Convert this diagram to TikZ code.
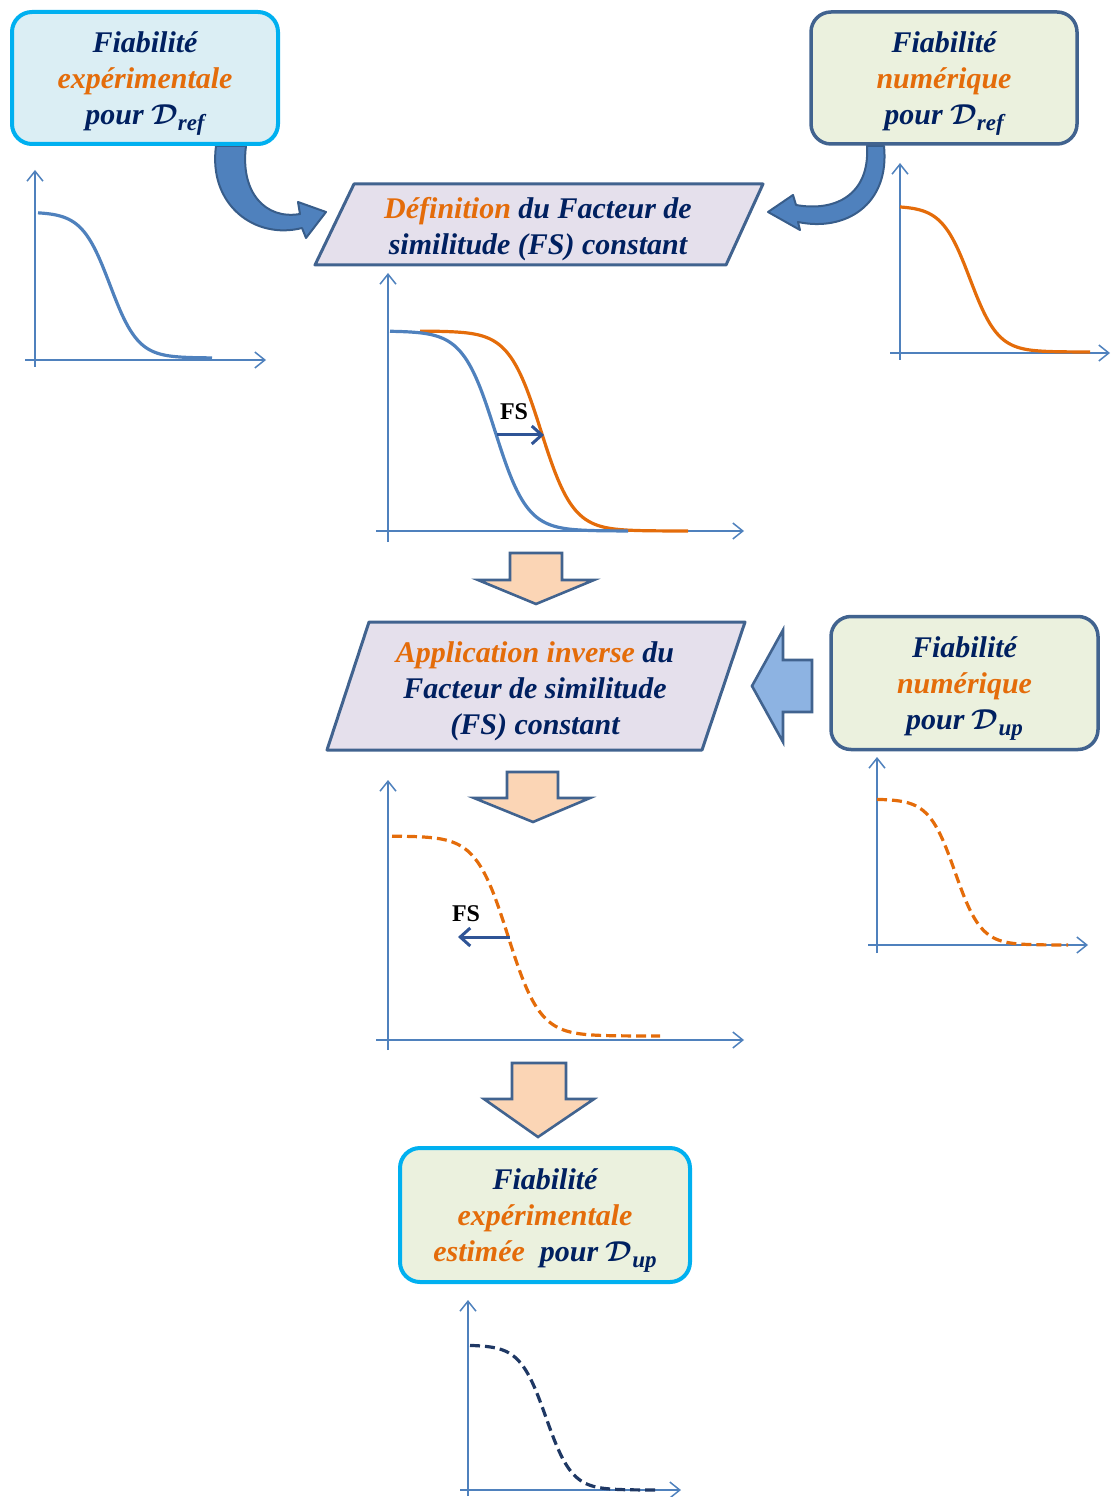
\documentclass[tikz,border=0pt]{standalone}
\usepackage{fontspec}
\setmainfont{Liberation Serif}
\usetikzlibrary{arrows.meta,shapes.geometric}
\definecolor{navy}{HTML}{002060}
\definecolor{orng}{HTML}{E46C0A}
\definecolor{bord}{HTML}{41638F}
\definecolor{cyanb}{HTML}{00B0F0}
\definecolor{fillblue}{HTML}{DBEEF4}
\definecolor{fillgreen}{HTML}{EBF1DE}
\definecolor{fillpurple}{HTML}{E5E0EC}
\definecolor{axiscol}{HTML}{4F81BD}
\definecolor{curveblue}{HTML}{4F81BD}
\definecolor{peach}{HTML}{FBD5B5}
\definecolor{arrowblue}{HTML}{4F81BD}
\definecolor{arrowborder}{HTML}{385D8A}
\definecolor{lightarrow}{HTML}{8DB3E2}
\definecolor{fsblue}{HTML}{2F5496}
\definecolor{darknavy}{HTML}{1F3864}
\newcommand{\Dsub}[1]{{\boldmath\fontsize{15.5}{15.5}\selectfont$\mathcal{D}$}\raisebox{-0.45ex}{\fontsize{11.5}{11.5}\selectfont #1}}
\begin{document}
\begin{tikzpicture}[x=0.5pt,y=-0.5pt,
  txt/.style={font=\fontsize{15}{18}\selectfont\bfseries\itshape, text=navy, align=center, inner sep=0pt},
  rbox/.style={txt, rounded corners=10pt, line width=1.75pt, text depth=0pt},
  para/.style={draw=bord, fill=fillpurple, line width=1.5pt, line join=round},
  ax/.style={draw=axiscol, line width=0.75pt, -{Straight Barb[length=5pt,width=8pt]}},
  curveline/.style={line width=1.6pt},
  dashcurve/.style={line width=1.6pt, dash pattern=on 5pt off 2.5pt},
  fsarrow/.style={draw=fsblue, line width=1.5pt, -{Straight Barb[length=5pt,width=9pt]}},
  fslabel/.style={font=\fontsize{12}{12}\selectfont\bfseries, text=black, inner sep=0pt},
  bentarrow/.style={fill=arrowblue, draw=arrowborder, line width=1pt, line join=round},
  blockarrow/.style={fill=peach, draw=bord, line width=1.3pt, line join=miter},
  sidearrow/.style={fill=lightarrow, draw=bord, line width=1.3pt, line join=miter}
]
\useasboundingbox (0,0) rectangle (1112,1497);

% curved arrows (behind boxes)
\path[bentarrow] (216,146) .. controls (208,205) and (255,240) .. (302,228)
  -- (306,238) -- (326,212) -- (298,202) -- (300,214)
  .. controls (265,220) and (240,192) .. (246,146) -- cycle;
\path[bentarrow] (884,146) .. controls (890,205) and (845,232) .. (798,222)
  -- (800,230) -- (768,212) -- (793,195) -- (796,205)
  .. controls (835,212) and (870,195) .. (867,146) -- cycle;

% top boxes
\node[rbox, draw=cyanb, line width=2pt, fill=fillblue, minimum width=133pt, minimum height=66pt] (expref) at (145,78)
  {Fiabilité\\\textcolor{orng}{expérimentale}\\pour \Dsub{ref}};
\node[rbox, draw=bord, fill=fillgreen, minimum width=133pt, minimum height=66pt] (numref) at (944,78)
  {Fiabilité\\\textcolor{orng}{numérique}\\pour \Dsub{ref}};

% parallelogram 1
\path[para] (354,184) -- (763,184) -- (726,265) -- (315,265) -- cycle;
\node[txt] (deffs) at (538,229) {\textcolor{orng}{Définition} du Facteur de\\similitude (FS) constant};

% chart 1
\draw[ax] (35,367) -- (35,170);
\draw[ax] (25,360) -- (266,360);
\draw[curveline, draw=curveblue] plot[domain=38:212, samples=80, smooth] (\x, {212+146/(1+exp(-(\x-110)/14))});

% chart 2
\draw[ax] (900,360) -- (900,163);
\draw[ax] (890,353) -- (1110,353);
\draw[curveline, draw=orng] plot[domain=900:1090, samples=80, smooth] (\x, {206+146/(1+exp(-(\x-970)/14))});

% chart 3
\draw[ax] (388,542) -- (388,273);
\draw[ax] (376,531) -- (744,531);
\draw[curveline, draw=orng] plot[domain=420:688, samples=90, smooth] (\x, {331+200/(1+exp(-(\x-541)/16))});
\draw[curveline, draw=curveblue] plot[domain=390:628, samples=90, smooth] (\x, {331+200/(1+exp(-(\x-495)/16))});
\coordinate (fs1a) at (497,435);
\coordinate (fs1b) at (544,435);
\draw[fsarrow] (fs1a) -- (fs1b);
\node[fslabel] (fs1) at (514,412) {FS};

% block arrow 1
\path[blockarrow] (510,553) -- (562,553) -- (562,580) -- (594,580) -- (536,604) -- (478,580) -- (510,580) -- cycle;

% parallelogram 2
\path[para] (369,622) -- (745,622) -- (702,750) -- (327,750) -- cycle;
\node[txt] (invfs) at (535,691) {\textcolor{orng}{Application inverse} du\\Facteur de similitude\\(FS) constant};

% side arrow
\path[sidearrow] (812,660) -- (783,660) -- (783,630) -- (752,686) -- (783,742) -- (783,712) -- (812,712) -- cycle;

% box 3
\node[rbox, draw=bord, fill=fillgreen, minimum width=133.5pt, minimum height=66.5pt] (numup) at (964.5,683)
  {Fiabilité\\\textcolor{orng}{numérique}\\pour \Dsub{up}};

% chart 4
\draw[ax] (877,953) -- (877,757);
\draw[ax] (868,945) -- (1088,945);
\draw[dashcurve, draw=orng] plot[domain=877:1068, samples=80, smooth] (\x, {799+146/(1+exp(-(\x-955)/13))});

% block arrow 2
\path[blockarrow] (507,772) -- (558,772) -- (558,798) -- (590,798) -- (533,822) -- (474,798) -- (507,798) -- cycle;

% chart 5
\draw[ax] (388,1050) -- (388,780);
\draw[ax] (376,1040) -- (744,1040);
\draw[dashcurve, draw=orng] plot[domain=392:660, samples=90, smooth] (\x, {836+200/(1+exp(-(\x-508)/16))});
\coordinate (fs2a) at (510,937);
\coordinate (fs2b) at (458,937);
\draw[fsarrow] (fs2a) -- (fs2b);
\node[fslabel] (fs2) at (466,914) {FS};

% block arrow 3
\path[blockarrow] (512,1063) -- (566,1063) -- (566,1099) -- (594,1099) -- (538,1137) -- (484,1099) -- (512,1099) -- cycle;

% box 4
\node[rbox, draw=cyanb, line width=2pt, fill=fillgreen, minimum width=145pt, minimum height=67pt] (expup) at (545,1215)
  {Fiabilité\\\textcolor{orng}{expérimentale}\\\textcolor{orng}{estimée}\ \ pour \Dsub{up}};

% chart 6
\draw[ax] (468,1496) -- (468,1300);
\draw[ax] (460,1490) -- (681,1490);
\draw[dashcurve, draw=darknavy] plot[domain=470:660, samples=80, smooth] (\x, {1345+145/(1+exp(-(\x-546)/13))});
\end{tikzpicture}
\end{document}
